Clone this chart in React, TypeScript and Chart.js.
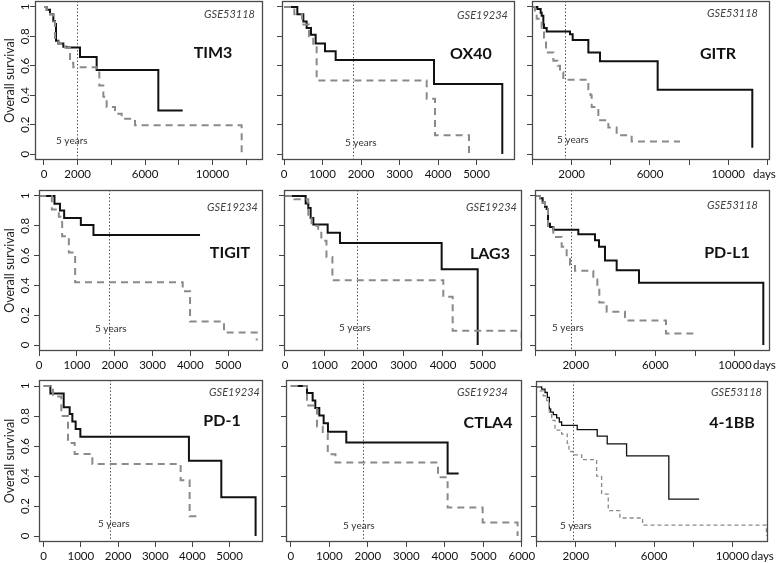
import React, { useEffect, useRef } from 'react';
import { Chart, registerables } from 'chart.js';

Chart.register(...registerables);

const FONT = 'Lato, "Open Sans", "DejaVu Sans", sans-serif';

// ---------- data (days, survival) ----------
const tim3BlackT = [0, 158, 356, 554, 653, 712, 851, 1147, 1345, 2136, 3125, 6785, 8229];
const tim3BlackS = [1, 0.98, 0.95, 0.905, 0.883, 0.77, 0.752, 0.73, 0.725, 0.66, 0.572, 0.297, 0.297];
const tim3GrayT = [0, 158, 356, 554, 653, 851, 1246, 1543, 1741, 3125, 3284, 3521, 3719, 4214, 4609, 5400, 11731];
const tim3GrayS = [1, 0.98, 0.95, 0.9, 0.775, 0.75, 0.725, 0.62, 0.59, 0.568, 0.466, 0.39, 0.32, 0.275, 0.24, 0.196, 0];

const ox40BlackT = [0, 346, 502, 589, 701, 822, 1065, 1342, 3896, 5670];
const ox40BlackS = [1, 0.95, 0.9, 0.856, 0.81, 0.752, 0.698, 0.64, 0.477, 0];
const ox40GrayT = [0, 268, 470, 650, 760, 848, 3706, 3922, 4805];
const ox40GrayS = [1, 0.95, 0.88, 0.8, 0.74, 0.5, 0.376, 0.128, 0];

const gitrBlackT = [0, 247, 417, 468, 553, 587, 724, 1915, 2052, 2852, 3447, 6392, 11226];
const gitrBlackS = [1, 0.985, 0.96, 0.94, 0.88, 0.856, 0.833, 0.815, 0.775, 0.69, 0.63, 0.437, 0.043];
const gitrGrayT = [0, 128, 213, 468, 587, 690, 1064, 1285, 1404, 1574, 2852, 2960, 3022, 3362, 3873, 4298, 5064, 7533];
const gitrGrayS = [1, 0.96, 0.92, 0.85, 0.79, 0.69, 0.635, 0.6, 0.556, 0.505, 0.44, 0.4, 0.32, 0.23, 0.18, 0.128, 0.086, 0.086];

const tigitBlackT = [0, 405, 550, 661, 1103, 1437, 4259];
const tigitBlackS = [1, 0.948, 0.903, 0.853, 0.806, 0.738, 0.738];
const tigitGrayT = [0, 335, 520, 608, 785, 952, 3800, 3995, 4894, 5759];
const tigitGrayS = [1, 0.91, 0.86, 0.73, 0.62, 0.422, 0.361, 0.158, 0.084, 0.03];

const lag3BlackT = [0, 523, 590, 650, 717, 1080, 1392, 3966, 4878];
const lag3BlackS = [1, 0.949, 0.92, 0.853, 0.808, 0.754, 0.685, 0.509, 0];
const lag3GrayT = [0, 236, 590, 675, 840, 920, 1050, 1200, 4008, 4245, 5992];
const lag3GrayS = [1, 0.978, 0.86, 0.8, 0.754, 0.7, 0.59, 0.435, 0.324, 0.096, 0];

const pdl1BlackT = [0, 201, 335, 452, 536, 603, 704, 871, 2127, 2965, 3166, 3467, 4054, 5176, 11424];
const pdl1BlackS = [1, 0.985, 0.956, 0.927, 0.912, 0.813, 0.791, 0.774, 0.743, 0.703, 0.659, 0.567, 0.501, 0.418, 0];
const pdl1GrayT = [0, 201, 335, 452, 536, 603, 871, 1290, 1541, 1709, 1960, 2881, 3082, 3183, 3551, 4472, 6533, 7905];
const pdl1GrayS = [1, 0.985, 0.956, 0.927, 0.912, 0.79, 0.725, 0.659, 0.593, 0.538, 0.499, 0.44, 0.39, 0.286, 0.224, 0.165, 0.077, 0.077];

const pd1BlackT = [0, 180, 538, 699, 771, 860, 986, 3906, 4777, 5699];
const pd1BlackS = [1, 0.95, 0.858, 0.814, 0.764, 0.714, 0.662, 0.502, 0.258, 0];
const pd1GrayT = [0, 250, 475, 654, 833, 1309, 3683, 3925, 4194];
const pd1GrayS = [1, 0.93, 0.8, 0.62, 0.546, 0.48, 0.371, 0.131, 0.131];

const ctla4BlackT = [0, 420, 567, 636, 740, 853, 965, 1441, 4073, 4359];
const ctla4BlackS = [1, 0.953, 0.904, 0.854, 0.803, 0.751, 0.695, 0.623, 0.417, 0.417];
const ctla4GrayT = [0, 420, 680, 830, 960, 1160, 3823, 4073, 4983, 5890];
const ctla4GrayS = [1, 0.87, 0.73, 0.684, 0.545, 0.49, 0.392, 0.19, 0.09, 0];

const bb41BlackT = [0, 255, 425, 544, 646, 714, 850, 1020, 1156, 1275, 2071, 3092, 3602, 4592, 6750, 8296];
const bb41BlackS = [1, 0.985, 0.963, 0.93, 0.853, 0.831, 0.815, 0.793, 0.765, 0.743, 0.714, 0.67, 0.618, 0.538, 0.248, 0.248];
const bb41GrayT = [0, 168, 337, 510, 646, 765, 934, 1275, 1563, 1648, 1867, 2296, 3061, 3316, 3656, 4250, 5408, 11735];
const bb41GrayS = [1, 0.974, 0.941, 0.908, 0.831, 0.776, 0.71, 0.684, 0.622, 0.567, 0.545, 0.512, 0.402, 0.281, 0.171, 0.121, 0.073, 0];

// five-year reference line (days) as drawn in each panel
const fiveYears = [1930, 1800, 1660, 1852, 1831, 1759, 1774, 1875, 1867];

// tick values
const ticksLong = [0, 2000, 4000, 6000, 8000, 10000, 12000];
const ticksLongShort = [0, 2000, 4000, 6000, 8000, 10000];
const ticksK5 = [0, 1000, 2000, 3000, 4000, 5000];
const ticksK6 = [0, 1000, 2000, 3000, 4000, 5000, 6000];
const labelsTim3 = [0, 2000, 6000, 10000];
const labelsLong = [2000, 6000, 10000];
const yTicks = [0, 0.2, 0.4, 0.6, 0.8, 1];
const yTickLabels = ['0', '0.2', '0.4', '0.6', '0.8', '1'];

const genes = ['TIM3', 'OX40', 'GITR', 'TIGIT', 'LAG3', 'PD-L1', 'PD-1', 'CTLA4', '4-1BB'];
const cohorts = ['GSE53118', 'GSE19234', 'GSE53118', 'GSE19234', 'GSE19234', 'GSE53118', 'GSE19234', 'GSE19234', 'GSE53118'];

// ---------- layout ----------
const W = 784;
const H = 563;

type PanelSpec = {
  gene: string;
  cohort: string;
  blackT: number[]; blackS: number[]; grayT: number[]; grayS: number[];
  five: number;
  xTicks: number[]; xLabels: number[];
  xMin: number; xMax: number;
  box: [number, number, number, number];
  col: number;
  yLabelPad: number;
  genePos: [number, number];
  cohortPos: [number, number];
  fivePos: [number, number];
  thin?: boolean;
};

const panels: PanelSpec[] = [
  { gene: genes[0], cohort: cohorts[0], blackT: tim3BlackT, blackS: tim3BlackS, grayT: tim3GrayT, grayS: tim3GrayS, five: fiveYears[0],
    xTicks: ticksLong, xLabels: labelsTim3, xMin: -534, xMax: 12997, box: [35, 1, 263, 160], col: 0, yLabelPad: -3,
    genePos: [213, 53], cohortPos: [255, 14], fivePos: [56, 141] },
  { gene: genes[1], cohort: cohorts[1], blackT: ox40BlackT, blackS: ox40BlackS, grayT: ox40GrayT, grayS: ox40GrayS, five: fiveYears[1],
    xTicks: ticksK5, xLabels: ticksK5, xMin: -52, xMax: 6000, box: [282, 1, 515, 160], col: 1, yLabelPad: 0,
    genePos: [471, 54], cohortPos: [508, 15], fivePos: [345, 143] },
  { gene: genes[2], cohort: cohorts[2], blackT: gitrBlackT, blackS: gitrBlackS, grayT: gitrGrayT, grayS: gitrGrayS, five: fiveYears[2],
    xTicks: ticksLong, xLabels: labelsLong, xMin: -26, xMax: 12130, box: [532, 1, 770, 160], col: 2, yLabelPad: 0,
    genePos: [718, 54], cohortPos: [758, 13], fivePos: [557, 140] },
  { gene: genes[3], cohort: cohorts[3], blackT: tigitBlackT, blackS: tigitBlackS, grayT: tigitGrayT, grayS: tigitGrayS, five: fiveYears[3],
    xTicks: ticksK5, xLabels: ticksK5, xMin: -5, xMax: 5926, box: [39, 190, 263, 351], col: 0, yLabelPad: 1,
    genePos: [230, 253], cohortPos: [258, 207], fivePos: [95, 329] },
  { gene: genes[4], cohort: cohorts[4], blackT: lag3BlackT, blackS: lag3BlackS, grayT: lag3GrayT, grayS: lag3GrayS, five: fiveYears[4],
    xTicks: ticksK5, xLabels: ticksK5, xMin: -25, xMax: 6000, box: [284, 190, 522, 351], col: 1, yLabelPad: 0,
    genePos: [490, 254], cohortPos: [517, 207], fivePos: [339, 328] },
  { gene: genes[5], cohort: cohorts[5], blackT: pdl1BlackT, blackS: pdl1BlackS, grayT: pdl1GrayT, grayS: pdl1GrayS, five: fiveYears[5],
    xTicks: ticksLongShort, xLabels: labelsLong, xMin: -50, xMax: 11760, box: [535, 190, 770, 351], col: 2, yLabelPad: 0,
    genePos: [727, 253], cohortPos: [758, 205], fivePos: [552, 328] },
  { gene: genes[6], cohort: cohorts[6], blackT: pd1BlackT, blackS: pd1BlackS, grayT: pd1GrayT, grayS: pd1GrayS, five: fiveYears[6],
    xTicks: ticksK5, xLabels: ticksK5, xMin: -126, xMax: 5898, box: [39, 380, 263, 542], col: 0, yLabelPad: 1,
    genePos: [222, 421], cohortPos: [260, 392], fivePos: [98, 524] },
  { gene: genes[7], cohort: cohorts[7], blackT: ctla4BlackT, blackS: ctla4BlackS, grayT: ctla4GrayT, grayS: ctla4GrayS, five: fiveYears[7],
    xTicks: ticksK6, xLabels: ticksK6, xMin: -125, xMax: 6005, box: [286, 380, 522, 542], col: 1, yLabelPad: 0,
    genePos: [488, 423], cohortPos: [508, 392], fivePos: [343, 526] },
  { gene: genes[8], cohort: cohorts[8], blackT: bb41BlackT, blackS: bb41BlackS, grayT: bb41GrayT, grayS: bb41GrayS, five: fiveYears[8],
    xTicks: ticksLongShort, xLabels: labelsLong, xMin: -36, xMax: 11816, box: [536, 381, 768, 542], col: 2, yLabelPad: 0,
    genePos: [732, 423], cohortPos: [762, 392], fivePos: [560, 526], thin: true },
];

const toPoints = (t: number[], s: number[]) => t.map((x, i) => ({ x, y: s[i] }));

function makeConfig(p: PanelSpec): any {
  const [l, t, r, b] = p.box;
  const yW = p.col === 0 ? 34 : 10;
  const xH = 24;
  const decor = {
    id: 'decor',
    beforeDatasetsDraw(chart: any) {
      const { ctx, chartArea: a, scales } = chart;
      const x = Math.round(scales.x.getPixelForValue(p.five)) + 0.5;
      ctx.save();
      ctx.strokeStyle = '#555';
      ctx.lineWidth = 1;
      ctx.setLineDash([1.5, 2]);
      ctx.beginPath();
      ctx.moveTo(x, a.top);
      ctx.lineTo(x, a.bottom);
      ctx.stroke();
      ctx.restore();
    },
    afterDatasetsDraw(chart: any) {
      const { ctx, chartArea: a } = chart;
      ctx.save();
      ctx.strokeStyle = '#4a4a4a';
      ctx.lineWidth = 1.3;
      ctx.strokeRect(a.left + 0.5, a.top + 0.5, a.right - a.left - 1, a.bottom - a.top - 1);
      ctx.textBaseline = 'middle';
      ctx.fillStyle = '#111';
      ctx.font = `bold 16px ${FONT}`;
      ctx.textAlign = 'center';
      ctx.fillText(p.gene, p.genePos[0], p.genePos[1]);
      ctx.fillStyle = '#444';
      ctx.font = `italic 11px ${FONT}`;
      ctx.textAlign = 'right';
      ctx.fillText(p.cohort, p.cohortPos[0], p.cohortPos[1]);
      ctx.fillStyle = '#333';
      ctx.font = `10px ${FONT}`;
      ctx.textAlign = 'left';
      ctx.fillText('5 years', p.fivePos[0], p.fivePos[1]);
      if (p.col === 0) {
        ctx.save();
        ctx.translate(10, (a.top + a.bottom) / 2);
        ctx.rotate(-Math.PI / 2);
        ctx.fillStyle = '#222';
        ctx.font = `12.5px ${FONT}`;
        ctx.textAlign = 'center';
        ctx.fillText('Overall survival', 0, 0);
        ctx.restore();
      }
      if (p.col === 2) {
        ctx.fillStyle = '#111';
        ctx.font = `11.5px ${FONT}`;
        ctx.textAlign = 'left';
        ctx.fillText('days', Math.min(a.right - 17, 753), a.bottom + 14);
      }
      ctx.restore();
    },
  };
  const zeroPad = (s: any) => {
    s.paddingLeft = 0; s.paddingRight = 0; s.paddingTop = 0; s.paddingBottom = 0;
  };
  const lw = p.thin ? 1.3 : 2;
  return {
    type: 'line',
    data: {
      datasets: [
        {
          data: toPoints(p.grayT, p.grayS),
          borderColor: '#8a8a8a',
          borderWidth: lw,
          borderDash: p.thin ? [4, 3] : [7, 5],
          stepped: true,
          pointRadius: 0,
          fill: false,
        },
        {
          data: toPoints(p.blackT, p.blackS),
          borderColor: '#111',
          borderWidth: lw,
          stepped: true,
          pointRadius: 0,
          fill: false,
        },
      ],
    },
    options: {
      animation: false,
      responsive: false,
      events: [],
      layout: { padding: { left: l - yW, top: t, right: W - r, bottom: H - b - xH } },
      plugins: { legend: { display: false }, tooltip: { enabled: false }, title: { display: false } },
      scales: {
        x: {
          type: 'linear',
          min: p.xMin,
          max: p.xMax,
          afterBuildTicks: (s: any) => { s.ticks = p.xTicks.map((v) => ({ value: v })); },
          afterFit: (s: any) => { s.height = xH; zeroPad(s); },
          grid: { drawOnChartArea: false, drawTicks: true, tickLength: 5, color: '#444', tickColor: '#444' },
          border: { display: false },
          ticks: {
            autoSkip: false,
            minRotation: 0,
            maxRotation: 0,
            padding: 2,
            color: '#111',
            font: { family: FONT, size: 11.5 },
            callback: (v: number) => (p.xLabels.includes(v) ? String(v) : ''),
          },
        },
        y: {
          type: 'linear',
          min: -0.04,
          max: 1.04,
          afterBuildTicks: (s: any) => { s.ticks = yTicks.map((v) => ({ value: v })); },
          afterFit: (s: any) => { s.width = yW; zeroPad(s); },
          grid: { drawOnChartArea: false, drawTicks: true, tickLength: 5, color: '#444', tickColor: '#444' },
          border: { display: false },
          ticks: {
            autoSkip: false,
            minRotation: 90,
            maxRotation: 90,
            crossAlign: 'center',
            padding: p.yLabelPad,
            color: '#111',
            font: { family: FONT, size: 11.5 },
            callback: (v: number) => {
              if (p.col !== 0) return '';
              const i = yTicks.findIndex((y) => Math.abs(y - v) < 1e-9);
              return i >= 0 ? yTickLabels[i] : '';
            },
          },
        },
      },
    },
    plugins: [decor],
  };
}

function Panel({ spec }: { spec: PanelSpec }) {
  const ref = useRef<HTMLCanvasElement>(null);
  useEffect(() => {
    if (!ref.current) return;
    const chart = new Chart(ref.current, makeConfig(spec));
    return () => chart.destroy();
  }, [spec]);
  return (
    <canvas
      ref={ref}
      width={W}
      height={H}
      style={{ position: 'absolute', left: 0, top: 0, width: W, height: H }}
    />
  );
}

export default function App() {
  return (
    <div style={{ position: 'absolute', left: 0, top: 0, width: W, height: H, background: '#fff', overflow: 'hidden' }}>
      {panels.map((p) => (
        <Panel key={p.gene} spec={p} />
      ))}
    </div>
  );
}
